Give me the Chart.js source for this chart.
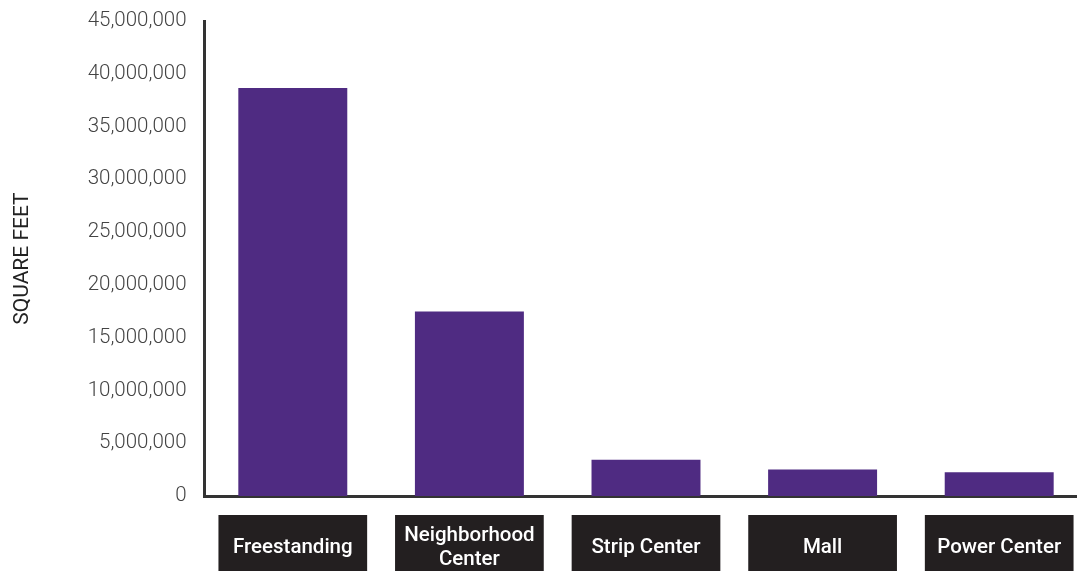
<!DOCTYPE html>
<html>
<head>
<meta charset="utf-8">
<script src="https://cdn.jsdelivr.net/npm/chart.js@4/dist/chart.umd.min.js"></script>
<style>
  html, body { margin: 0; padding: 0; background: #fff; overflow: hidden; }
  #grafico { display: block; }
</style>
</head>
<body>
<canvas id="grafico" width="1077" height="571"></canvas>
<script>
// dados
const categorias = ["Freestanding", ["Neighborhood", "Center"], "Strip Center", "Mall", "Power Center"];
const metragem = [38650000, 17480000, 3440000, 2500000, 2250000];
const eixoMax = 45000000;
const eixoPasso = 5000000;
const tituloY = "SQUARE FEET";

// o eixo x do original continua um pouco além da borda direita
const estendeEixoX = {
  id: "estendeEixoX",
  afterLayout(chart) {
    const x = chart.scales.x;
    x.right = x.left + 883;
    x.width = 883;
    x.configure();
  }
};

// caixas pretas atrás dos rótulos do eixo x
const caixasRotulos = {
  id: "caixasRotulos",
  beforeDraw(chart) {
    const x = chart.scales.x;
    const ctx = chart.ctx;
    const larg = (x.width / categorias.length) * 0.842;
    const topo = x.top + 19;
    ctx.save();
    ctx.fillStyle = "#231f20";
    categorias.forEach((_, i) => {
      const cx = x.getPixelForTick(i);
      ctx.fillRect(cx - larg / 2, topo, larg, chart.height - topo);
    });
    ctx.restore();
  }
};

new Chart(document.getElementById("grafico"), {
  type: "bar",
  data: {
    labels: categorias,
    datasets: [
      {
        label: "Square feet",
        data: metragem,
        backgroundColor: "#4f2b82",
        barPercentage: 0.617,
        categoryPercentage: 1
      }
    ]
  },
  options: {
    responsive: false,
    animation: false,
    layout: { padding: { top: 21, left: 0, right: 0, bottom: 0 } },
    plugins: {
      legend: { display: false },
      tooltip: { enabled: false }
    },
    scales: {
      x: {
        grid: { display: false, drawTicks: false },
        border: { display: true, color: "#333", width: 3 },
        ticks: {
          color: "#fff",
          padding: 40,
          crossAlign: "center",
          maxRotation: 0,
          autoSkip: false,
          font: { family: "Roboto", size: 20.5, weight: "500", lineHeight: 1.17 }
        },
        afterFit: (s) => { s.height = 75; }
      },
      y: {
        min: 0,
        max: eixoMax,
        grid: { display: false, drawTicks: false },
        border: { display: true, color: "#333", width: 3 },
        ticks: {
          stepSize: eixoPasso,
          color: "#444",
          padding: 18,
          font: { family: "Roboto", size: 20.5, weight: "300" },
          callback: (v) => v.toLocaleString("en-US")
        },
        title: {
          display: true,
          text: tituloY,
          color: "#222",
          padding: { top: 10, bottom: 0 },
          font: { family: "Roboto", size: 21, weight: "400" }
        },
        afterFit: (s) => {
          s.width = 204.5;
          s.paddingTop = 12;
          s.paddingBottom = 12;
        }
      }
    }
  },
  plugins: [estendeEixoX, caixasRotulos]
});
</script>
</body>
</html>
